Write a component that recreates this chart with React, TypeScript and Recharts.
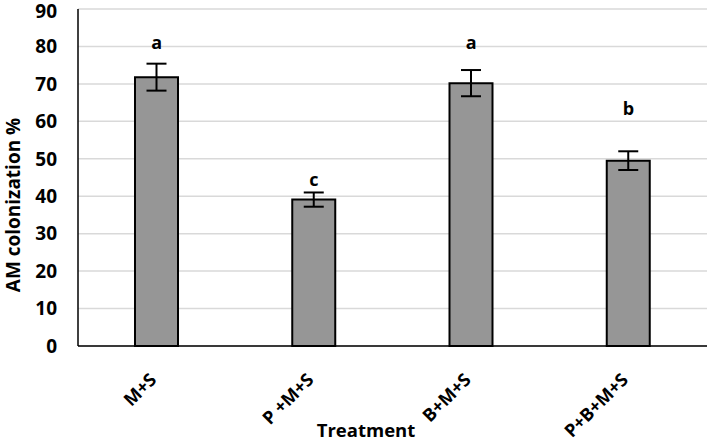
import React from 'react';
import { Bar, CartesianGrid, ComposedChart, ErrorBar, Label, Line, XAxis, YAxis } from 'recharts';

// Treatments and measured AM colonization (%)
const treatments = ['M+S', 'P +M+S', 'B+M+S', 'P+B+M+S'];
const colonization = [71.8, 39.1, 70.2, 49.5];
const stdError = [3.6, 1.9, 3.5, 2.5];
// significance letters and the height (in % units) where they sit
const letters = ['a', 'c', 'a', 'b'];
const letterPos = [79.2, 42.6, 79.2, 61.8];
const yTicks = [0, 10, 20, 30, 40, 50, 60, 70, 80, 90];

const data = treatments.map((name, i) => ({
  name,
  value: colonization[i],
  err: stdError[i],
  letter: letters[i],
  letterPos: letterPos[i],
}));

const FONT = '"Open Sans", Lato, sans-serif';

const XTick = (props: any) => {
  const { x, y, payload } = props;
  const ax = x + 1;
  const ay = y + 35;
  return (
    <text
      x={ax}
      y={ay}
      transform={`rotate(-45 ${ax} ${ay})`}
      textAnchor="end"
      fontFamily={FONT}
      fontWeight="bold"
      fontSize={18}
      fill="#000"
    >
      {payload.value}
    </text>
  );
};

const LetterDot = (props: any) => {
  const { cx, cy, payload, index } = props;
  return (
    <text
      key={`letter-${index}`}
      x={cx}
      y={cy}
      textAnchor="middle"
      fontFamily={FONT}
      fontWeight="bold"
      fontSize={18}
      fill="#000"
    >
      {payload.letter}
    </text>
  );
};

export default function App() {
  return (
    <div style={{ position: 'absolute', left: 0, top: 0, background: '#fff' }}>
      <ComposedChart
        width={709}
        height={442}
        data={data}
        margin={{ top: 9, right: 2, bottom: 0, left: 0 }}
        style={{ fontFamily: FONT }}
      >
        <CartesianGrid vertical={false} stroke="#d9d9d9" strokeWidth={1.5} />
        <XAxis
          dataKey="name"
          height={96}
          tickLine={false}
          tickSize={0}
          tickMargin={0}
          interval={0}
          tick={<XTick />}
          axisLine={{ stroke: '#000', strokeWidth: 1.5 }}
        >
          <Label
            content={() => (
              <text x={366} y={437} textAnchor="middle" fontFamily={FONT} fontWeight="bold" fontSize={18.5} fill="#000">
                Treatment
              </text>
            )}
          />
        </XAxis>
        <XAxis
          xAxisId="top"
          dataKey="name"
          orientation="top"
          height={0}
          tick={false}
          tickLine={false}
          axisLine={{ stroke: '#000', strokeWidth: 1.5 }}
        />
        <YAxis
          width={78}
          domain={[0, 90]}
          ticks={yTicks}
          tickLine={false}
          tickSize={0}
          tickMargin={21}
          axisLine={{ stroke: '#000', strokeWidth: 1.5 }}
          tick={{ fontFamily: FONT, fontWeight: 'bold', fontSize: 19, fill: '#000' }}
        >
          <Label
            content={() => (
              <text
                x={20}
                y={205}
                transform="rotate(-90 20 205)"
                textAnchor="middle"
                fontFamily={FONT}
                fontWeight="bold"
                fontSize={19}
                fill="#000"
              >
                AM colonization %
              </text>
            )}
          />
        </YAxis>
        <YAxis
          yAxisId="right"
          orientation="right"
          width={0}
          domain={[0, 90]}
          tick={false}
          tickLine={false}
          axisLine={{ stroke: '#000', strokeWidth: 1.5 }}
        />
        <Bar dataKey="value" barSize={43} fill="#969696" stroke="#000" strokeWidth={2} isAnimationActive={false}>
          <ErrorBar dataKey="err" width={10} stroke="#000" strokeWidth={2} />
        </Bar>
        <Line
          dataKey="letterPos"
          stroke="none"
          dot={LetterDot}
          activeDot={false}
          legendType="none"
          isAnimationActive={false}
        />
      </ComposedChart>
    </div>
  );
}
